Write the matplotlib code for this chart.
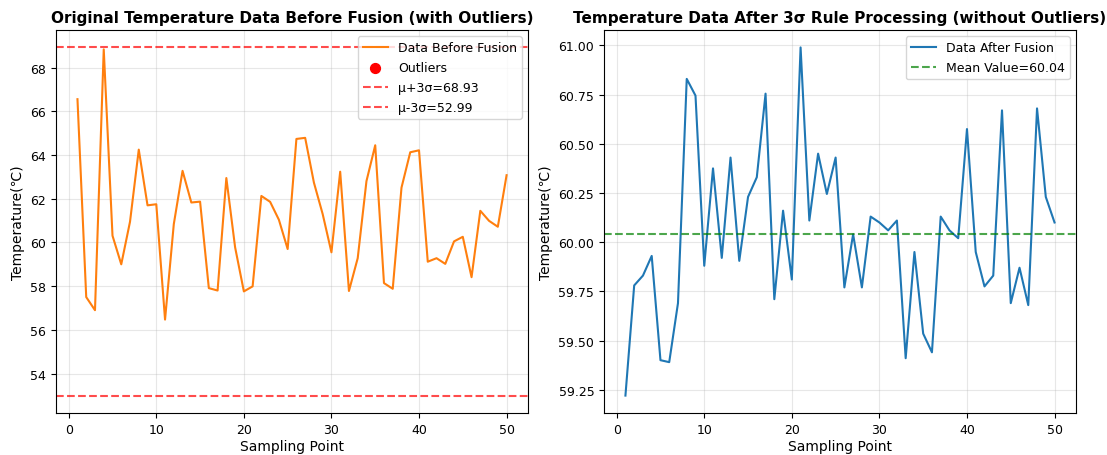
import numpy as np
import matplotlib.pyplot as plt

# sampling points 1..50
points = list(range(1, 51))

# temperatures before fusion
temp_before = [66.56, 57.50, 56.90, 68.84, 60.31, 59.00, 60.95, 64.25, 61.70, 61.75,
               56.47, 60.84, 63.28, 61.83, 61.87, 57.91, 57.80, 62.95, 59.78, 57.76,
               57.99, 62.13, 61.86, 61.04, 59.70, 64.74, 64.79, 62.74, 61.30, 59.55,
               63.24, 57.78, 59.28, 62.81, 64.45, 58.14, 57.88, 62.51, 64.13, 64.22,
               59.12, 59.28, 59.02, 60.05, 60.26, 58.41, 61.45, 60.99, 60.72, 63.08]

# temperatures after 3-sigma processing (right panel)
temp_after = [59.22, 59.78, 59.83, 59.93, 59.40, 59.39, 59.69, 60.83, 60.745, 59.88,
              60.375, 59.92, 60.43, 59.905, 60.23, 60.33, 60.755, 59.71, 60.16, 59.81,
              60.99, 60.11, 60.45, 60.245, 60.43, 59.77, 60.04, 59.77, 60.13, 60.10,
              60.06, 60.11, 59.41, 59.95, 59.535, 59.44, 60.13, 60.06, 60.02, 60.575,
              59.95, 59.775, 59.83, 60.67, 59.69, 59.87, 59.68, 60.68, 60.23, 60.10]

upper_bound = 68.93
lower_bound = 52.99
mean_after = 60.04

outlier_x = []
outlier_y = []

fig = plt.figure(figsize=(11.07, 4.56), dpi=100)
ax1 = fig.add_axes([0.0506, 0.0921, 0.4264, 0.8399])
ax2 = fig.add_axes([0.5456, 0.0921, 0.4264, 0.8399])

# Left: original data
ax1.plot(points, temp_before, color="#ff7f0e", linewidth=1.5, label="Data Before Fusion")
ax1.scatter(outlier_x, outlier_y, color="red", s=50, zorder=5, label="Outliers")
ax1.axhline(upper_bound, color="red", linestyle="--", alpha=0.7, label=f"μ+3σ={upper_bound:.2f}")
ax1.axhline(lower_bound, color="red", linestyle="--", alpha=0.7, label=f"μ-3σ={lower_bound:.2f}")
ax1.set_title("Original Temperature Data Before Fusion (with Outliers)", fontsize=11, fontweight="bold")
ax1.set_xlabel("Sampling Point", fontsize=10, labelpad=2)
ax1.set_ylabel("Temperature(℃)", fontsize=10)
ax1.legend(loc="upper right", fontsize=9, labelspacing=0.55)
ax1.grid(True, alpha=0.3)

# Right: processed data
ax2.plot(points, temp_after, color="#1f77b4", linewidth=1.5, label="Data After Fusion")
ax2.axhline(mean_after, color="green", linestyle="--", alpha=0.7, label=f"Mean Value={mean_after:.2f}")
ax2.set_title("Temperature Data After 3σ Rule Processing (without Outliers)", fontsize=11, fontweight="bold")
ax2.set_xlabel("Sampling Point", fontsize=10, labelpad=2)
ax2.set_ylabel("Temperature(℃)", fontsize=10)
ax2.legend(loc="upper right", fontsize=9, labelspacing=0.55)
ax2.grid(True, alpha=0.3)

for ax in (ax1, ax2):
    ax.tick_params(labelsize=9)

fig.savefig("out.png", dpi=100)
